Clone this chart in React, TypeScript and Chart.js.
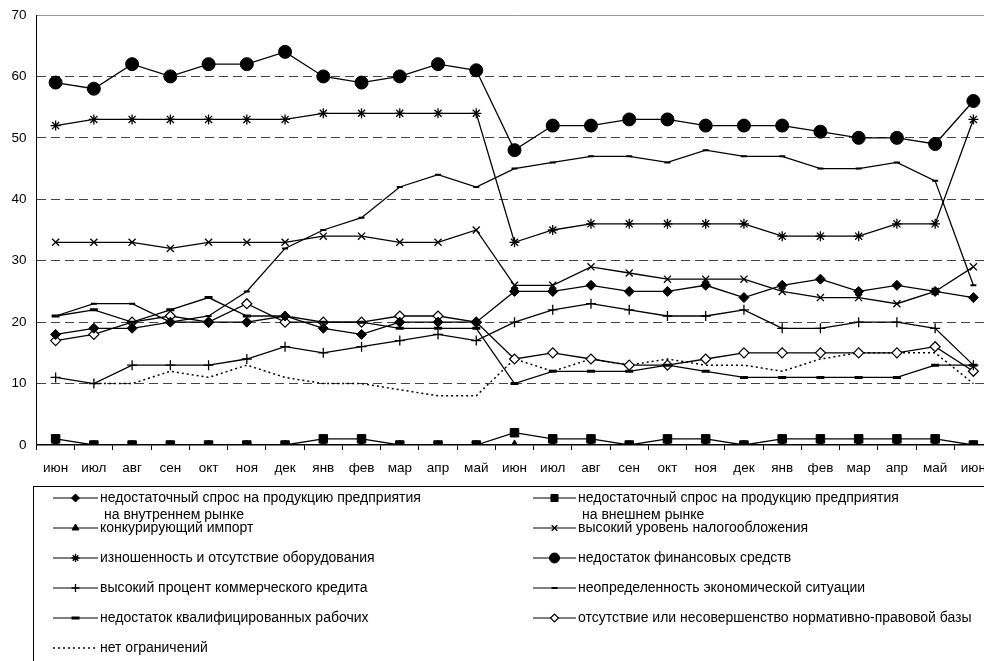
import { useEffect, useRef } from 'react';
import { Chart, registerables } from 'chart.js';
import { drawPoint } from 'chart.js/helpers';

Chart.register(...registerables);

const months = [
  'июн', 'июл', 'авг', 'сен', 'окт', 'ноя', 'дек', 'янв', 'фев', 'мар', 'апр', 'май',
  'июн', 'июл', 'авг', 'сен', 'окт', 'ноя', 'дек', 'янв', 'фев', 'мар', 'апр', 'май', 'июн'
];

const demandInner = [18, 19, 19, 20, 20, 20, 21, 19, 18, 20, 20, 20, 25, 25, 26, 25, 25, 26, 24, 26, 27, 25, 26, 25, 24];
const demandOuter = [1, 0, 0, 0, 0, 0, 0, 1, 1, 0, 0, 0, 2, 1, 1, 0, 1, 1, 0, 1, 1, 1, 1, 1, 0];
const imports = [0, 0, 0, 0, 0, 0, 0, 0, 0, 0, 0, 0, 0, 0, 0, 0, 0, 0, 0, 0, 0, 0, 0, 0, 0];
const taxes = [33, 33, 33, 32, 33, 33, 33, 34, 34, 33, 33, 35, 26, 26, 29, 28, 27, 27, 27, 25, 24, 24, 23, 25, 29];
const equipment = [52, 53, 53, 53, 53, 53, 53, 54, 54, 54, 54, 54, 33, 35, 36, 36, 36, 36, 36, 34, 34, 34, 36, 36, 53];
const finance = [59, 58, 62, 60, 62, 62, 64, 60, 59, 60, 62, 61, 48, 52, 52, 53, 53, 52, 52, 52, 51, 50, 50, 49, 56];
const credit = [11, 10, 13, 13, 13, 14, 16, 15, 16, 17, 18, 17, 20, 22, 23, 22, 21, 21, 22, 19, 19, 20, 20, 19, 13];
const uncertainty = [21, 23, 23, 20, 21, 25, 32, 35, 37, 42, 44, 42, 45, 46, 47, 47, 46, 48, 47, 47, 45, 45, 46, 43, 26];
const workers = [21, 22, 20, 22, 24, 21, 21, 20, 20, 19, 19, 19, 10, 12, 12, 12, 13, 12, 11, 11, 11, 11, 11, 13, 13];
const legalBase = [17, 18, 20, 21, 20, 23, 20, 20, 20, 21, 21, 20, 14, 15, 14, 13, 13, 14, 15, 15, 15, 15, 15, 16, 12];
const noLimits = [null, 10, 10, 12, 11, 13, 11, 10, 10, 9, 8, 8, 14, 12, 14, 13, 14, 13, 13, 12, 14, 15, 15, 15, 10];

const FONT = "Arial, 'Liberation Sans', sans-serif";

// series styles (legend uses same)
const series = [
  { label: ['недостаточный спрос на продукцию предприятия', 'на внутреннем рынке'], data: demandInner, style: 'rectRot', r: 5, fill: '#000', bw: 1, lr: 4 },
  { label: ['недостаточный спрос на продукцию предприятия', 'на внешнем рынке'], data: demandOuter, style: 'rect', r: 6, fill: '#000', bw: 1, lr: 5 },
  { label: ['конкурирующий импорт'], data: imports, style: 'triangle', r: 5, fill: '#000', bw: 1, lr: 4 },
  { label: ['высокий уровень налогообложения'], data: taxes, style: 'crossRot', r: 5, fill: '#000', bw: 1.3, lr: 4 },
  { label: ['изношенность и отсутствие оборудования'], data: equipment, style: 'star', r: 5, fill: '#000', bw: 1.3, lr: 4 },
  { label: ['недостаток финансовых средств'], data: finance, style: 'circle', r: 6.5, fill: '#000', bw: 1, lr: 5 },
  { label: ['высокий процент коммерческого кредита'], data: credit, style: 'cross', r: 5, fill: '#000', bw: 1.3, lr: 4 },
  { label: ['неопределенность экономической ситуации'], data: uncertainty, style: 'line', r: 3, fill: '#000', bw: 2, lr: 3 },
  { label: ['недостаток квалифицированных рабочих'], data: workers, style: 'line', r: 4, fill: '#000', bw: 3, lr: 4 },
  { label: ['отсутствие или несовершенство нормативно-правовой базы'], data: legalBase, style: 'rectRot', r: 5, fill: '#fff', bw: 1.2, lr: 4 },
  { label: ['нет ограничений'], data: noLimits, style: null, r: 0, fill: '#000', bw: 0, lr: 0, dash: [2, 3] }
];

const legendBox = {
  id: 'legendBox',
  afterDraw(chart: Chart) {
    const ctx = chart.ctx;
    ctx.save();
    ctx.strokeStyle = '#000';
    ctx.lineWidth = 1;
    ctx.strokeRect(33.5, 486.5, 1200, 400);
    ctx.font = `14px ${FONT}`;
    ctx.textBaseline = 'middle';
    series.forEach((s, i) => {
      const col = i % 2;
      const row = Math.floor(i / 2);
      const x0 = col ? 533 : 53;
      const x1 = col ? 576 : 98;
      const y = 498 + row * 30;
      ctx.strokeStyle = '#000';
      ctx.lineWidth = s.dash ? 1.5 : 1.2;
      ctx.setLineDash(s.dash || []);
      ctx.beginPath();
      ctx.moveTo(x0, y);
      ctx.lineTo(x1, y);
      ctx.stroke();
      ctx.setLineDash([]);
      if (s.style) {
        ctx.fillStyle = s.fill;
        ctx.strokeStyle = '#000';
        ctx.lineWidth = s.bw;
        drawPoint(ctx, { pointStyle: s.style, radius: s.lr, borderWidth: s.bw, rotation: 0 } as any, (x0 + x1) / 2, y);
      }
      ctx.fillStyle = '#000';
      ctx.fillText(s.label[0], x1 + 2, y);
      if (s.label[1]) ctx.fillText(s.label[1], x1 + 6, y + 17.5);
    });
    ctx.restore();
  }
};

export default function App() {
  const canvasRef = useRef<HTMLCanvasElement | null>(null);

  useEffect(() => {
    if (!canvasRef.current) return;
    const chart = new Chart(canvasRef.current, {
      type: 'line',
      data: {
        labels: months,
        datasets: series.map((s) => ({
          label: s.label.join(' '),
          data: s.data,
          borderColor: '#000',
          borderWidth: s.dash ? 1.5 : 1.3,
          borderDash: s.dash || [],
          pointStyle: s.style || false,
          pointRadius: s.r,
          pointBackgroundColor: s.fill,
          pointBorderColor: '#000',
          pointBorderWidth: s.bw,
          tension: 0,
          fill: false,
          spanGaps: false
        })) as any
      },
      options: {
        responsive: true,
        maintainAspectRatio: false,
        animation: false,
        layout: { padding: { top: 15, left: 0, right: 5, bottom: 176 } },
        plugins: {
          legend: { display: false },
          tooltip: { enabled: false }
        },
        scales: {
          x: {
            offset: true,
            grid: {
              offset: true,
              drawOnChartArea: false,
              drawTicks: true,
              tickLength: 5,
              color: '#000'
            },
            border: { color: '#000', width: 1.5 },
            ticks: {
              color: '#000',
              padding: 10,
              maxRotation: 0,
              autoSkip: false,
              font: { family: FONT, size: 13.5 }
            },
            afterFit: (s: any) => {
              s.height = 40;
              s.paddingLeft = 0;
              s.paddingRight = 0;
            }
          },
          y: {
            min: 0,
            max: 70,
            ticks: {
              stepSize: 10,
              color: '#000',
              padding: 10,
              font: { family: FONT, size: 13.5 }
            },
            grid: {
              drawTicks: false,
              lineWidth: 1,
              color: (c: any) => (c.tick.value === 0 ? 'rgba(0,0,0,0)' : c.tick.value === 70 ? '#999' : '#444')
            },
            border: {
              color: '#000',
              width: 1,
              dash: (c: any) => (c.tick && c.tick.value === 70 ? [] : [9, 5])
            },
            afterFit: (s: any) => {
              s.width = 36.5;
              s.paddingTop = 0;
              s.paddingBottom = 0;
            }
          }
        }
      },
      plugins: [legendBox]
    });
    return () => chart.destroy();
  }, []);

  return (
    <div style={{ position: 'fixed', left: 0, top: 0, width: 984, height: 661, overflow: 'hidden', background: '#fff' }}>
      <div style={{ position: 'relative', width: 1000, height: 661 }}>
        <canvas ref={canvasRef} />
      </div>
    </div>
  );
}
